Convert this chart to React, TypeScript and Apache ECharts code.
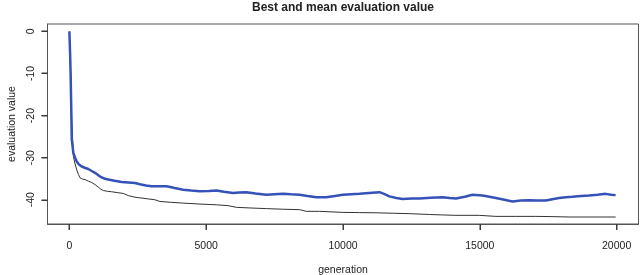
import React, { useEffect, useRef } from "react";
import * as echarts from "echarts";

const bestGen = [0, 12, 25, 45, 62, 85, 120, 146, 200, 270, 330, 390, 480, 573, 700, 817, 940, 1058, 1150, 1240, 1400, 1546, 1750, 1969, 2152, 2396, 2650, 2881, 3125, 3308, 3700, 4158, 4700, 5375, 5800, 6105, 6600, 7199, 7800, 8414, 8658, 9143, 9993, 10600, 11211, 11800, 12425, 13155, 13600, 14128, 14978, 15587, 16300, 17046, 17600, 18260, 19000, 19964];
const bestVal = [0, -2.5, -5, -10, -16, -21, -26, -29.7, -31.3, -32.9, -34, -34.8, -35.1, -35.2, -35.6, -35.9, -36.4, -37.0, -37.5, -37.8, -38.0, -38.1, -38.3, -38.5, -39.0, -39.4, -39.6, -39.8, -40.0, -40.4, -40.6, -40.8, -41.0, -41.2, -41.4, -41.8, -41.95, -42.1, -42.25, -42.35, -42.75, -42.75, -43.0, -43.05, -43.1, -43.2, -43.3, -43.5, -43.6, -43.7, -43.7, -43.95, -43.95, -43.95, -44.0, -44.1, -44.1, -44.1];

const meanGen = [0, 12, 25, 45, 62, 87, 146, 208, 270, 350, 452, 560, 693, 800, 937, 1060, 1180, 1300, 1422, 1650, 1911, 2150, 2396, 2580, 2800, 3005, 3250, 3552, 3850, 4158, 4450, 4766, 5100, 5375, 5650, 5981, 6200, 6470, 6800, 7199, 7500, 7805, 8100, 8414, 8700, 9023, 9387, 9700, 9993, 10300, 10602, 10950, 11331, 11500, 11696, 11950, 12181, 12500, 12790, 13200, 13640, 13900, 14128, 14450, 14734, 15099, 15350, 15587, 15900, 16193, 16500, 16802, 17100, 17411, 17650, 17896, 18150, 18381, 18700, 18990, 19300, 19599, 19800, 19964];
const meanVal = [0, -2.5, -5, -10, -16, -25.7, -28.9, -30.0, -30.9, -31.6, -32.1, -32.4, -32.7, -33.1, -33.6, -34.2, -34.7, -35.0, -35.2, -35.5, -35.8, -35.9, -36.0, -36.3, -36.6, -36.8, -36.8, -36.8, -37.2, -37.6, -37.8, -38.0, -37.9, -37.8, -38.1, -38.4, -38.3, -38.2, -38.5, -38.8, -38.7, -38.6, -38.7, -38.8, -39.1, -39.4, -39.4, -39.1, -38.8, -38.7, -38.6, -38.4, -38.2, -38.6, -39.2, -39.6, -39.8, -39.7, -39.7, -39.5, -39.4, -39.6, -39.7, -39.3, -38.8, -39.0, -39.3, -39.6, -40.0, -40.4, -40.2, -40.1, -40.2, -40.2, -39.9, -39.6, -39.4, -39.3, -39.1, -39.0, -38.8, -38.6, -38.8, -38.9];

const xTicks = [0, 5000, 10000, 15000, 20000];
const yTicks = [0, -10, -20, -30, -40];

const titleText = "Best and mean evaluation value";
const xName = "generation";
const yName = "evaluation value";

export default function App() {
  const ref = useRef<HTMLDivElement>(null);
  useEffect(() => {
    const chart = echarts.init(ref.current!, null, { renderer: "svg" });
    const font = "'Liberation Sans', Arial, sans-serif";
    const bestData = bestGen.map((g, i) => [g, bestVal[i]]);
    const meanData = meanGen.map((g, i) => [g, meanVal[i]]);
    const fmt = (v: number) => String(v);
    const tickLen = 6;
    const tickColor = "#3a3a3a";
    const xMin = -800;
    const xMax = 20800;
    const yMin = -45.76;
    const yMax = 1.76;
    const titleEl = {
      id: "title",
      type: "text",
      x: 343,
      y: 1,
      style: {
        text: titleText,
        textAlign: "center",
        textVerticalAlign: "top",
        font: "bold 12px 'Liberation Sans', Arial, sans-serif",
        fill: "#222",
      },
    };
    chart.setOption({
      animation: false,
      grid: {
        left: 47.5,
        right: 1.5,
        top: 24,
        bottom: 51,
        show: true,
        borderColor: "#555",
        borderWidth: 1,
        backgroundColor: "transparent",
        containLabel: false,
        outerBoundsMode: "none",
      },
      graphic: [titleEl],
      xAxis: {
        type: "value",
        min: xMin,
        max: xMax,
        axisLine: { show: true, onZero: false, lineStyle: { color: "#555", width: 1 } },
        splitLine: { show: false },
        axisTick: { show: true, inside: false, length: tickLen, customValues: xTicks, lineStyle: { color: tickColor, width: 1 } },
        axisLabel: { customValues: xTicks, formatter: fmt, margin: 15, fontSize: 10.5, color: "#222", fontFamily: font },
        name: xName,
        nameLocation: "middle",
        nameGap: 39,
        nameTextStyle: { fontSize: 10.5, color: "#222", fontFamily: font },
      },
      yAxis: {
        type: "value",
        min: yMin,
        max: yMax,
        axisLine: { show: true, onZero: false, lineStyle: { color: "#555", width: 1 } },
        splitLine: { show: false },
        axisTick: { show: true, inside: false, length: tickLen, customValues: yTicks, lineStyle: { color: tickColor, width: 1 } },
        axisLabel: {
          customValues: yTicks,
          formatter: fmt,
          rotate: 90,
          margin: 12,
          align: "center",
          verticalAlign: "bottom",
          fontSize: 10.5,
          color: "#222",
          fontFamily: font,
        },
        name: yName,
        nameLocation: "middle",
        nameGap: 30,
        nameTextStyle: { fontSize: 10.5, color: "#222", fontFamily: font },
      },
      series: [
        {
          type: "line",
          data: bestData,
          showSymbol: false,
          lineStyle: { color: "#333", width: 1 },
          z: 2,
        },
        {
          type: "line",
          data: meanData,
          showSymbol: false,
          lineStyle: { color: "#3452b8", width: 2.5 },
          z: 3,
        },
      ],
    });
    const ticks: any[] = [];
    xTicks.forEach((v, i) => {
      const p = chart.convertToPixel({ xAxisIndex: 0, yAxisIndex: 0 }, [v, yMin]) as number[];
      if (!p) return;
      ticks.push({
        id: "xt" + i,
        type: "rect",
        z: 100,
        shape: { x: Math.round(p[0]) - 0.5, y: p[1], width: 1, height: tickLen },
        style: { fill: tickColor },
      });
    });
    yTicks.forEach((v, i) => {
      const p = chart.convertToPixel({ xAxisIndex: 0, yAxisIndex: 0 }, [xMin, v]) as number[];
      if (!p) return;
      ticks.push({
        id: "yt" + i,
        type: "rect",
        z: 100,
        shape: { x: p[0] - tickLen, y: Math.round(p[1]) - 0.5, width: tickLen, height: 1 },
        style: { fill: tickColor },
      });
    });
    chart.setOption({ graphic: [titleEl, ...ticks] });
    return () => chart.dispose();
  }, []);
  return <div ref={ref} style={{ position: "fixed", left: 0, top: 0, width: 640, height: 275 }} />;
}
